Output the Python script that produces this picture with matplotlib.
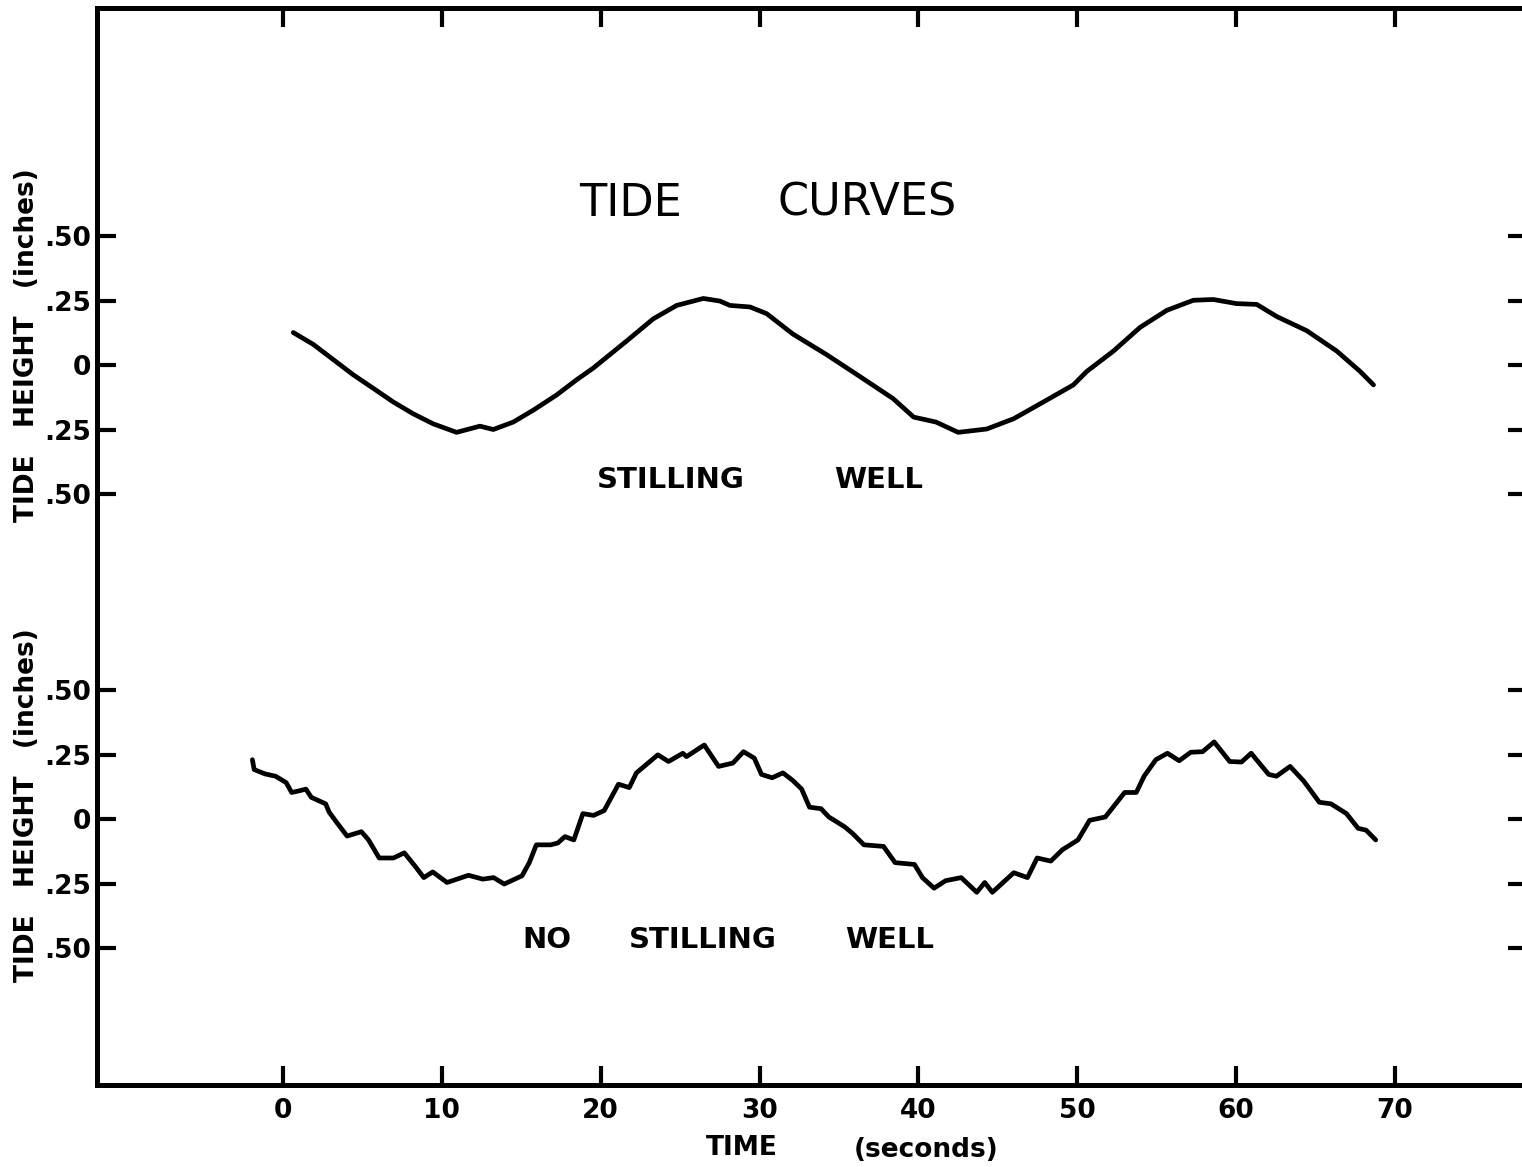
import matplotlib
matplotlib.use("Agg")
import matplotlib.pyplot as plt
import numpy as np

# stilling well trace (time s, height in)
well_t = [0.65, 1.91, 3.17, 4.43, 5.68, 6.94, 8.2, 9.46, 10.93, 12.4, 13.24, 14.5,
          15.76, 17.23, 18.49, 19.53, 21.63, 23.31, 24.78, 26.46, 27.5, 28.14, 29.4,
          30.45, 32.1, 34.2, 36.3, 38.4, 39.7, 41.1, 42.5, 44.3, 46.0, 48.07, 49.75,
          50.59, 52.27, 53.95, 55.63, 57.3, 58.56, 60.03, 61.29, 62.55, 64.44, 66.33,
          67.8, 68.64]
well_h = [0.127, 0.081, 0.022, -0.037, -0.089, -0.142, -0.188, -0.227, -0.260, -0.236,
          -0.249, -0.220, -0.174, -0.115, -0.056, -0.011, 0.094, 0.180, 0.232, 0.259,
          0.249, 0.232, 0.226, 0.200, 0.121, 0.042, -0.043, -0.129, -0.201, -0.220,
          -0.260, -0.247, -0.207, -0.135, -0.076, -0.024, 0.055, 0.147, 0.213, 0.252,
          0.255, 0.239, 0.236, 0.189, 0.134, 0.055, -0.024, -0.076]

# no stilling well trace
raw_t = [-1.92, -1.81, -1.13, -0.46, 0.21, 0.55, 1.0, 1.45, 1.79, 2.69, 2.91, 3.36,
         4.04, 4.94, 5.39, 6.06, 6.96, 7.64, 8.31, 8.87, 9.43, 10.33, 11.68, 12.58,
         13.26, 13.93, 15.05, 15.5, 15.95, 16.85, 17.3, 17.75, 18.31, 18.88, 19.55,
         20.22, 21.12, 21.8, 22.25, 23.6, 24.27, 25.17, 25.4, 26.52, 27.42, 28.32,
         28.99, 29.67, 30.12, 30.79, 31.47, 32.1, 32.65, 33.14, 33.87, 34.36, 35.35,
         35.84, 36.57, 37.8, 38.53, 39.75, 40.25, 40.98, 41.71, 42.69, 43.67, 44.17,
         44.65, 46.0, 46.86, 47.47, 48.33, 49.06, 50.04, 50.77, 51.76, 52.98, 53.71,
         54.2, 54.94, 55.67, 56.41, 57.14, 57.88, 58.61, 59.59, 60.33, 60.94, 62.04,
         62.53, 63.39, 64.25, 65.23, 65.96, 66.94, 67.67, 68.17, 68.78]
raw_h = [0.231, 0.193, 0.176, 0.167, 0.142, 0.104, 0.110, 0.117, 0.085, 0.060, 0.028,
         -0.010, -0.065, -0.048, -0.080, -0.150, -0.150, -0.130, -0.181, -0.226,
         -0.204, -0.245, -0.217, -0.232, -0.226, -0.251, -0.219, -0.169, -0.099,
         -0.099, -0.092, -0.067, -0.080, 0.022, 0.015, 0.034, 0.136, 0.123, 0.180,
         0.250, 0.224, 0.256, 0.243, 0.288, 0.205, 0.218, 0.262, 0.237, 0.174, 0.161,
         0.180, 0.150, 0.117, 0.047, 0.041, 0.009, -0.029, -0.054, -0.099, -0.105,
         -0.168, -0.175, -0.226, -0.267, -0.238, -0.226, -0.283, -0.245, -0.283,
         -0.207, -0.226, -0.150, -0.162, -0.118, -0.080, -0.004, 0.009, 0.104, 0.104,
         0.167, 0.231, 0.256, 0.227, 0.260, 0.262, 0.300, 0.224, 0.222, 0.256, 0.174,
         0.167, 0.205, 0.148, 0.066, 0.060, 0.022, -0.035, -0.042, -0.080]

x_ticks = [0, 10, 20, 30, 40, 50, 60, 70]
h_ticks = [0.50, 0.25, 0.0, -0.25, -0.50]
h_labels = [".50", ".25", "0", ".25", ".50"]

TOP_OFFSET = 1.76  # upper trace drawn above the lower one

fig = plt.figure(figsize=(15.22, 11.67), dpi=100)
ax = fig.add_axes([97 / 1522, 1 - 1085 / 1167, (1527 - 97) / 1522, (1085 - 8) / 1167])

ax.plot(well_t, np.array(well_h) + TOP_OFFSET, color="black", lw=3.4,
        solid_capstyle="round", solid_joinstyle="round")
ax.plot(raw_t, raw_h, color="black", lw=3.4,
        solid_capstyle="round", solid_joinstyle="round")

ax.set_xlim(-11.7, 78.3)
ax.set_ylim(-1.03, 3.145)

yt = [h + TOP_OFFSET for h in h_ticks] + list(h_ticks)
ax.set_yticks(yt)
ax.set_yticklabels(h_labels + h_labels)
ax.set_xticks(x_ticks)
ax.set_xticklabels([str(v) for v in x_ticks])

ax.tick_params(direction="in", length=14, width=3, top=True, right=True,
               labelsize=19)
ax.tick_params(axis="x", pad=9)
ax.tick_params(axis="y", pad=4)
for lab in ax.get_xticklabels() + ax.get_yticklabels():
    lab.set_fontweight("bold")
for sp in ax.spines.values():
    sp.set_linewidth(3.6)

# word labels inside the plot
ax.text(21.9, 2.388, "TIDE", fontsize=32, ha="center", va="center")
ax.text(36.8, 2.388, "CURVES", fontsize=32, ha="center", va="center")
ax.text(24.4, 1.314, "STILLING", fontsize=21, fontweight="bold", ha="center", va="center")
ax.text(37.5, 1.314, "WELL", fontsize=21, fontweight="bold", ha="center", va="center")
ax.text(16.6, -0.469, "NO", fontsize=21, fontweight="bold", ha="center", va="center")
ax.text(26.4, -0.469, "STILLING", fontsize=21, fontweight="bold", ha="center", va="center")
ax.text(38.2, -0.469, "WELL", fontsize=21, fontweight="bold", ha="center", va="center")

# axis titles
for yc in (345, 805):
    fig.text(27 / 1522, 1 - yc / 1167, "TIDE   HEIGHT   (inches)", rotation=90,
             fontsize=19, fontweight="bold", ha="center", va="center")
fig.text(742 / 1522, 1 - 1148 / 1167, "TIME", fontsize=19, fontweight="bold",
         ha="center", va="center")
fig.text(926 / 1522, 1 - 1150 / 1167, "(seconds)", fontsize=19, fontweight="bold",
         ha="center", va="center")

fig.savefig("out.png", dpi=100)
